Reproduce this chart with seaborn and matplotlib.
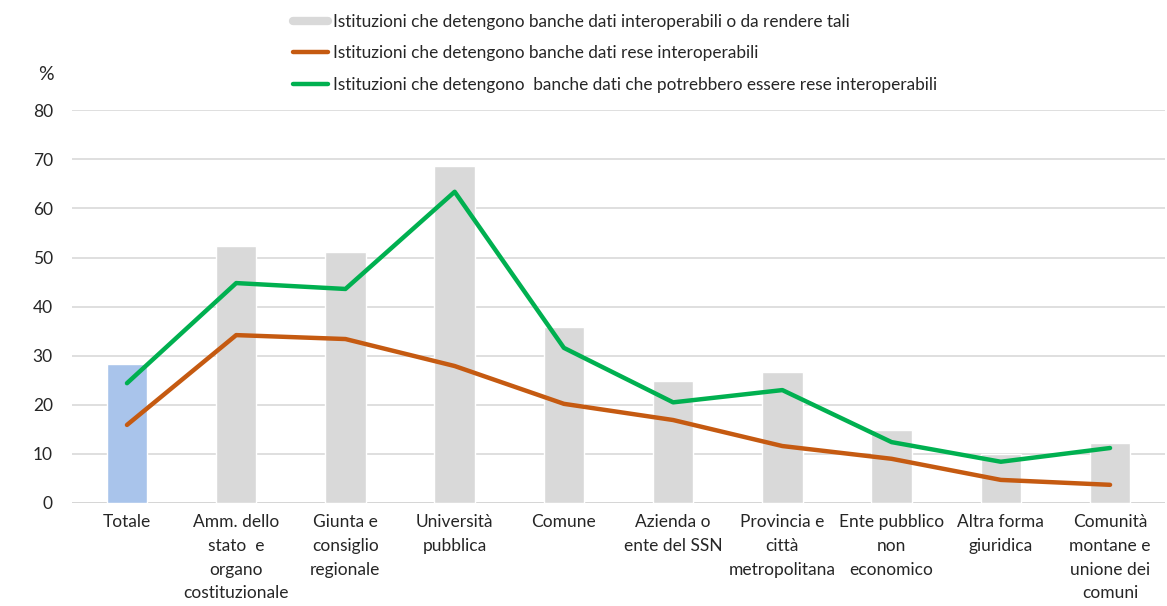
import numpy as np
import pandas as pd
import seaborn as sns
import matplotlib.pyplot as plt
from matplotlib.lines import Line2D

# Dati
categorie = ['Totale', 'Amm. dello\nstato  e\norgano\ncostituzionale', 'Giunta e\nconsiglio\nregionale',
             'Università\npubblica', 'Comune', 'Azienda o\nente del SSN', 'Provincia e\ncittà\nmetropolitana',
             'Ente pubblico\nnon\neconomico', 'Altra forma\ngiuridica', 'Comunità\nmontane e\nunione dei\ncomuni']
banche_dati = [28.3, 52.3, 51.2, 68.7, 35.8, 24.8, 26.7, 14.9, 10.0, 12.2]
rese_interop = [15.9, 34.2, 33.4, 27.9, 20.2, 16.9, 11.6, 9.0, 4.7, 3.7]
potrebbero = [24.4, 44.8, 43.6, 63.4, 31.6, 20.5, 23.0, 12.4, 8.4, 11.2]

nomi_serie = ['Istituzioni che detengono banche dati interoperabili o da rendere tali',
              'Istituzioni che detengono banche dati rese interoperabili',
              'Istituzioni che detengono  banche dati che potrebbero essere rese interoperabili']

grigio = '#D9D9D9'
blu = '#A9C4EB'
arancio = '#C55A11'
verde = '#00B050'

sns.set_style('white')
plt.rcParams['font.family'] = ['Lato', 'DejaVu Sans']

df = pd.DataFrame({'Categoria': categorie, 'Valore': banche_dati})
colori = [blu] + [grigio] * (len(categorie) - 1)

fig = plt.figure(figsize=(11.67, 6.06), dpi=100)
ax = fig.add_axes([0.062, 0.17, 0.936, 0.648])

sns.barplot(data=df, x='Categoria', y='Valore', hue='Categoria', palette=colori,
            legend=False, width=0.37, ax=ax, saturation=1)
pos = np.arange(len(categorie))
sns.lineplot(x=pos, y=rese_interop, color=arancio, linewidth=3.2, sort=False, ax=ax)
sns.lineplot(x=pos, y=potrebbero, color=verde, linewidth=3.2, sort=False, ax=ax)

ax.set_ylim(0, 80)
ax.set_xlim(-0.5, len(categorie) - 0.5)
ax.set_yticks(range(0, 81, 10))
ax.yaxis.grid(True, color='#D9D9D9', linewidth=1.2)
ax.set_axisbelow(True)
for s in ax.spines.values():
    s.set_visible(False)
ax.axhline(0, color='#BFBFBF', linewidth=1.2, zorder=0.5)
ax.set_xlabel('')
ax.set_ylabel('')
ax.tick_params(axis='both', length=0, labelsize=12.5, colors='#262626')
ax.tick_params(axis='y', pad=14)
ax.tick_params(axis='x', pad=8)
ax.set_xticks(pos)
ax.set_xticklabels(categorie, linespacing=1.6)
fig.text(38 / 1167, 1 - 75 / 606, '%', fontsize=14, color='#262626', va='center', ha='left')

handles = [Line2D([], [], color=grigio, linewidth=6),
           Line2D([], [], color=arancio, linewidth=3.2),
           Line2D([], [], color=verde, linewidth=3.2)]
fig.legend(handles, nomi_serie, loc='upper left', bbox_to_anchor=(0.238, 1.003), frameon=False,
           fontsize=12.4, handlelength=2.0, handletextpad=0.3, labelspacing=0.9)

fig.savefig('out.png', dpi=100)
